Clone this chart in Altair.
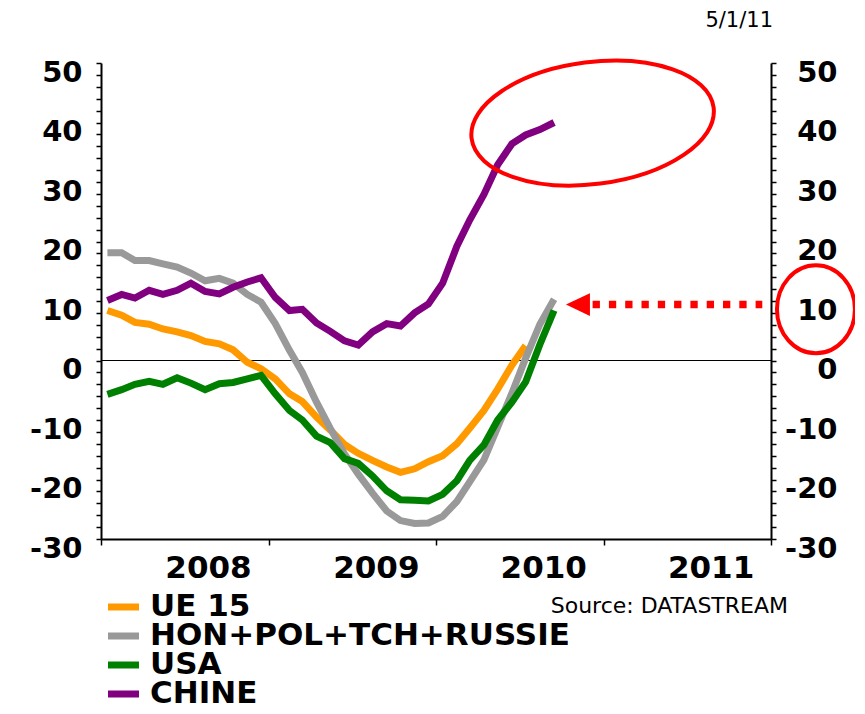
import altair as alt
import pandas as pd

# ---------------- data ----------------
series_names = ["UE 15", "HON+POL+TCH+RUSSIE", "USA", "CHINE"]
series_colors = ["#FF9900", "#999999", "#008000", "#800080"]

# monthly points, Jan 2008 ... Sep 2010
month_labels = pd.date_range("2008-01-01", periods=33, freq="MS") + pd.Timedelta(days=14)

ue15 = [8.4, 7.6, 6.4, 6.1, 5.3, 4.8, 4.2, 3.2, 2.8, 1.8, -0.3, -1.4, -3.1, -5.6, -6.9,
        -9.5, -11.7, -14.1, -15.6, -16.8, -17.9, -18.8, -18.2, -17.0, -16.0, -14.0,
        -11.4, -8.4, -4.8, -0.8, 2.5]
hon = [18.1, 18.1, 16.8, 16.8, 16.25, 15.7, 14.7, 13.4, 13.8, 13.0, 11.1, 9.8, 6.2, 1.7,
       -2.0, -7.0, -11.4, -15.7, -19.1, -22.3, -25.3, -26.9, -27.4, -27.3, -26.2, -23.7,
       -20.4, -16.7, -11.2, -5.5, 0.4, 6.1, 10.3]
usa = [-5.7, -4.9, -4.0, -3.5, -4.0, -2.9, -3.8, -4.9, -3.9, -3.7, -3.1, -2.5, -5.6, -8.4,
       -10.0, -12.7, -13.8, -16.5, -17.3, -19.4, -21.9, -23.4, -23.5, -23.6, -22.5, -20.2,
       -16.8, -14.2, -10.0, -7.0, -3.6, 2.7, 8.4]
chine = [10.1, 11.1, 10.5, 11.8, 11.1, 11.8, 13.0, 11.6, 11.2, 12.3, 13.2, 13.9, 10.6, 8.4,
         8.6, 6.3, 4.9, 3.3, 2.6, 4.8, 6.2, 5.8, 8.0, 9.5, 13.0, 19.2, 23.6, 27.9, 32.9,
         36.4, 37.9, 38.8, 40.0]

year_ticks = [2008, 2009, 2010, 2011, 2012]
y_ticks = list(range(-30, 51, 2))
date_note = "5/1/11"
source_note = "Source:  DATASTREAM"

# annotation anchors (in data units)
ellipse_pt = {"date": ["2010-12-08"], "value": [39.9]}
circle_pt = {"date": ["2012-04-08"], "value": [8.6]}
arrow_line = {"date": ["2010-12-08"], "date2": ["2011-12-13"], "value": [9.4]}
arrow_head = {"date": ["2010-11-06"], "value": [9.4]}

rows = []
for name, vals in zip(series_names, [ue15, hon, usa, chine]):
    for d, v in zip(month_labels, vals):
        rows.append({"date": d, "value": v, "series": name})
df = pd.DataFrame(rows)

# ---------------- styling ----------------
FONT = "DejaVu Sans"
RED = "#FF0000"

xscale = alt.Scale(domain=[alt.DateTime(year=2008, month=1, date=1),
                           alt.DateTime(year=2012, month=1, date=1)])
yscale = alt.Scale(domain=[-30, 50], nice=False, zero=False)

xaxis = alt.Axis(
    values=[alt.DateTime(year=y, month=1, date=1) for y in year_ticks],
    labelExpr="year(datum.value) < 2012 ? '' + year(datum.value) : ''",
    labelOffset=107, labelAlign="center", labelBound=False, labelOverlap=False,
    labelFlush=False, labelFont=FONT, labelFontSize=31, labelFontWeight="bold",
    labelColor="black", labelPadding=8, tickSize=6, tickColor="black", tickWidth=1.5,
    domainColor="black", domainWidth=2, grid=False, title=None)


def yaxis(orient, pad):
    return alt.Axis(
        orient=orient, values=y_ticks,
        labelExpr="datum.value % 10 === 0 ? '' + datum.value : ''",
        labelFont=FONT, labelFontSize=29, labelFontWeight="bold", labelColor="black",
        labelOffset=9, labelPadding=pad, labelAlign="right", labelBaseline="middle",
        labelOverlap=False, labelBound=False, tickSize=5, tickColor="black",
        tickWidth=1.5, domainColor="black", domainWidth=2, grid=False, title=None)


X = alt.X("date:T", scale=xscale, axis=xaxis)


def Y(axis):
    return alt.Y("value:Q", scale=yscale, axis=axis)


color = alt.Color("series:N",
                  scale=alt.Scale(domain=series_names, range=series_colors),
                  legend=None)

zero = alt.Chart(pd.DataFrame({"value": [0]})).mark_rule(
    color="black", strokeWidth=1).encode(y=Y(yaxis("right", 61)))

lines = []
for i, name in enumerate(series_names):
    lines.append(
        alt.Chart(df).transform_filter(alt.datum.series == name)
        .mark_line(strokeWidth=7)
        .encode(x=X, y=Y(yaxis("left", 14) if i == 0 else None), color=color)
    )

ELLIPSE = "M -1 0 A 1 0.5 0 1 1 1 0 A 1 0.5 0 1 1 -1 0 Z"
OVAL = "M -0.886 0 A 0.886 1 0 1 1 0.886 0 A 0.886 1 0 1 1 -0.886 0 Z"
TRI = "M -1 0 L 1 -0.95 L 1 0.95 Z"

ellipse = alt.Chart(pd.DataFrame(ellipse_pt)).mark_point(
    shape=ELLIPSE, size=59536, filled=False, color=RED, strokeWidth=4,
    angle=352.7, opacity=1).encode(x=X, y=Y(None))
circle = alt.Chart(pd.DataFrame(circle_pt)).mark_point(
    shape=OVAL, size=7744, filled=False, color=RED, strokeWidth=4,
    opacity=1).encode(x=X, y=Y(None))
arrow = alt.Chart(pd.DataFrame(arrow_line)).mark_rule(
    color=RED, strokeWidth=7.5, strokeDash=[7.3, 9], strokeCap="butt").encode(
    x=X, x2="date2:T", y=Y(None))
head = alt.Chart(pd.DataFrame(arrow_head)).mark_point(
    shape=TRI, size=576, filled=True, color=RED, opacity=1).encode(x=X, y=Y(None))

one = pd.DataFrame({"a": [0]})
txt_date = alt.Chart(one).mark_text(
    align="right", baseline="alphabetic", font=FONT, fontSize=21, color="black").encode(
    x=alt.value(672), y=alt.value(-36), text=alt.value(date_note))
txt_src = alt.Chart(one).mark_text(
    align="right", baseline="middle", font=FONT, fontSize=22, color="black").encode(
    x=alt.value(687), y=alt.value(543), text=alt.value(source_note))

# legend drawn below the plot (rows 29 px apart)
legend_layers = []
for i, (name, col) in enumerate(zip(series_names, series_colors)):
    row_y = 544 + 29 * i
    legend_layers.append(
        alt.Chart(one).mark_rule(color=col, strokeWidth=7).encode(
            x=alt.value(7), x2=alt.value(38), y=alt.value(row_y)))
    legend_layers.append(
        alt.Chart(one).mark_text(align="left", baseline="middle", font=FONT,
                                 fontSize=31, fontWeight="bold", color="black").encode(
            x=alt.value(49), y=alt.value(row_y), text=alt.value(name)))

chart = alt.layer(zero, *lines, ellipse, circle, arrow, head, txt_date, txt_src,
                  *legend_layers).resolve_axis(
    y="independent").properties(
    width=670, height=476,
    padding={"left": 93, "top": 55, "right": 84, "bottom": 167},
    autosize=alt.AutoSizeParams(type="none"),
    background="white",
).configure_view(stroke=None)

chart.save("out.html", embed_options={"renderer": "svg", "actions": False})
